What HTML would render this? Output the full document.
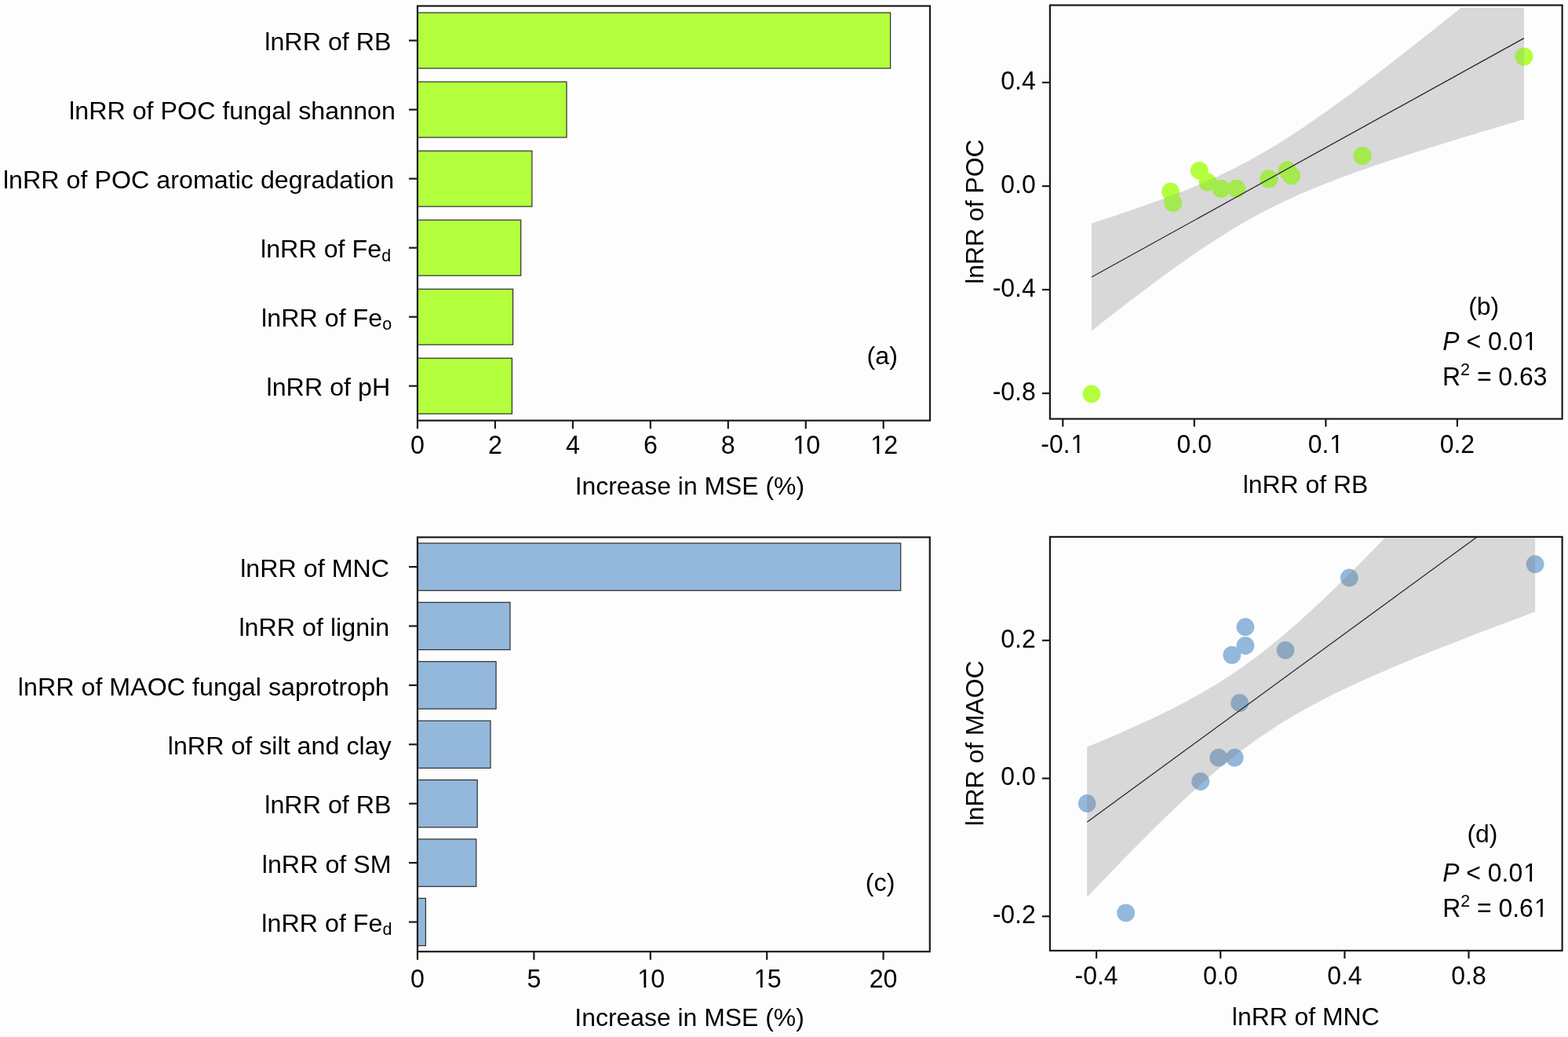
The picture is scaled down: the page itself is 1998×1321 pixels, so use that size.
<!DOCTYPE html>
<html><head><meta charset="utf-8"><title>Figure</title>
<style>html,body{margin:0;padding:0;background:#fdfdfd;}svg{display:block;}</style></head>
<body><svg width="1998" height="1321" viewBox="0 0 1998 1321" font-family="'Liberation Sans', Arial, Helvetica, sans-serif" font-size="32.25" fill="#000">
<rect width="1998" height="1321" fill="#fdfdfd"/>
<defs><clipPath id="c1_t6"><path clip-rule="evenodd" d="M-5000,-5000H9000V9000H-5000Z M1011.68,574.99h6.75v4.71h-6.75Z M1021.28,574.99h6.50v4.71h-6.50Z"/></clipPath><clipPath id="c1_t7"><path clip-rule="evenodd" d="M-5000,-5000H9000V9000H-5000Z M1110.63,574.99h6.75v4.71h-6.75Z M1120.23,574.99h6.50v4.71h-6.50Z"/></clipPath><clipPath id="c1_t10"><path clip-rule="evenodd" d="M-5000,-5000H9000V9000H-5000Z M813.73,1254.79h6.75v4.71h-6.75Z M823.33,1254.79h6.50v4.71h-6.50Z"/></clipPath><clipPath id="c1_t11"><path clip-rule="evenodd" d="M-5000,-5000H9000V9000H-5000Z M962.13,1254.79h6.75v4.71h-6.75Z M971.73,1254.79h6.50v4.71h-6.50Z"/></clipPath><clipPath id="c1_t17"><path clip-rule="evenodd" d="M-5000,-5000H9000V9000H-5000Z M1365.88,573.72h6.69v4.68h-6.69Z M1375.38,573.72h6.44v4.68h-6.44Z"/></clipPath><clipPath id="c1_t19"><path clip-rule="evenodd" d="M-5000,-5000H9000V9000H-5000Z M1695.67,573.72h6.69v4.68h-6.69Z M1705.17,573.72h6.44v4.68h-6.44Z"/></clipPath><clipPath id="c1_t47"><path clip-rule="evenodd" d="M-5000,-5000H9000V9000H-5000Z M1942.59,443.22h6.69v4.68h-6.69Z M1952.10,443.22h6.44v4.68h-6.44Z"/></clipPath><clipPath id="c1_t51"><path clip-rule="evenodd" d="M-5000,-5000H9000V9000H-5000Z M1942.49,1119.82h6.69v4.68h-6.69Z M1952.00,1119.82h6.44v4.68h-6.44Z"/></clipPath><clipPath id="c1_t52"><path clip-rule="evenodd" d="M-5000,-5000H9000V9000H-5000Z M1956.22,1164.82h6.69v4.68h-6.69Z M1965.72,1164.82h6.44v4.68h-6.44Z"/></clipPath></defs>
<rect x="532.00" y="16.18" width="602.60" height="70.85" fill="#b3ff3d" stroke="#262626" stroke-width="1.15"/>
<rect x="532.00" y="104.20" width="190.00" height="70.85" fill="#b3ff3d" stroke="#262626" stroke-width="1.15"/>
<rect x="532.00" y="192.21" width="145.90" height="70.85" fill="#b3ff3d" stroke="#262626" stroke-width="1.15"/>
<rect x="532.00" y="280.23" width="131.70" height="70.85" fill="#b3ff3d" stroke="#262626" stroke-width="1.15"/>
<rect x="532.00" y="368.25" width="121.60" height="70.85" fill="#b3ff3d" stroke="#262626" stroke-width="1.15"/>
<rect x="532.00" y="456.26" width="120.40" height="70.85" fill="#b3ff3d" stroke="#262626" stroke-width="1.15"/>
<rect x="532.0" y="7.6" width="653.0" height="528.1" fill="none" stroke="#1a1a1a" stroke-width="2.2"/>
<line x1="521.00" y1="51.61" x2="532.00" y2="51.61" stroke="#1a1a1a" stroke-width="2.2"/>
<line x1="521.00" y1="139.62" x2="532.00" y2="139.62" stroke="#1a1a1a" stroke-width="2.2"/>
<line x1="521.00" y1="227.64" x2="532.00" y2="227.64" stroke="#1a1a1a" stroke-width="2.2"/>
<line x1="521.00" y1="315.66" x2="532.00" y2="315.66" stroke="#1a1a1a" stroke-width="2.2"/>
<line x1="521.00" y1="403.68" x2="532.00" y2="403.68" stroke="#1a1a1a" stroke-width="2.2"/>
<line x1="521.00" y1="491.69" x2="532.00" y2="491.69" stroke="#1a1a1a" stroke-width="2.2"/>
<line x1="532.00" y1="535.70" x2="532.00" y2="546.20" stroke="#1a1a1a" stroke-width="2.2"/>
<text x="532.00" y="578.20" text-anchor="middle" transform="matrix(1 0 0 1.04 0 -23.128)">0</text>
<line x1="630.95" y1="535.70" x2="630.95" y2="546.20" stroke="#1a1a1a" stroke-width="2.2"/>
<text x="630.95" y="578.20" text-anchor="middle" transform="matrix(1 0 0 1.04 0 -23.128)">2</text>
<line x1="729.90" y1="535.70" x2="729.90" y2="546.20" stroke="#1a1a1a" stroke-width="2.2"/>
<text x="729.90" y="578.20" text-anchor="middle" transform="matrix(1 0 0 1.04 0 -23.128)">4</text>
<line x1="828.85" y1="535.70" x2="828.85" y2="546.20" stroke="#1a1a1a" stroke-width="2.2"/>
<text x="828.85" y="578.20" text-anchor="middle" transform="matrix(1 0 0 1.04 0 -23.128)">6</text>
<line x1="927.80" y1="535.70" x2="927.80" y2="546.20" stroke="#1a1a1a" stroke-width="2.2"/>
<text x="927.80" y="578.20" text-anchor="middle" transform="matrix(1 0 0 1.04 0 -23.128)">8</text>
<line x1="1026.75" y1="535.70" x2="1026.75" y2="546.20" stroke="#1a1a1a" stroke-width="2.2"/>
<text id="t6" clip-path="url(#c1_t6)" x="1026.75" y="578.20" text-anchor="middle" transform="matrix(1 0 0 1.04 0 -23.128)"><tspan dx="1.0">1</tspan><tspan dx="-1.0">0</tspan></text>
<line x1="1125.70" y1="535.70" x2="1125.70" y2="546.20" stroke="#1a1a1a" stroke-width="2.2"/>
<text id="t7" clip-path="url(#c1_t7)" x="1125.70" y="578.20" text-anchor="middle" transform="matrix(1 0 0 1.04 0 -23.128)"><tspan dx="1.0">1</tspan><tspan dx="-1.0">2</tspan></text>
<rect x="532.00" y="691.94" width="615.70" height="60.32" fill="#93b8db" stroke="#262626" stroke-width="1.15"/>
<rect x="532.00" y="767.34" width="118.00" height="60.32" fill="#93b8db" stroke="#262626" stroke-width="1.15"/>
<rect x="532.00" y="842.74" width="100.10" height="60.32" fill="#93b8db" stroke="#262626" stroke-width="1.15"/>
<rect x="532.00" y="918.14" width="93.00" height="60.32" fill="#93b8db" stroke="#262626" stroke-width="1.15"/>
<rect x="532.00" y="993.54" width="76.20" height="60.32" fill="#93b8db" stroke="#262626" stroke-width="1.15"/>
<rect x="532.00" y="1068.94" width="74.80" height="60.32" fill="#93b8db" stroke="#262626" stroke-width="1.15"/>
<rect x="532.00" y="1144.34" width="10.40" height="60.32" fill="#93b8db" stroke="#262626" stroke-width="1.15"/>
<rect x="532.0" y="684.4" width="652.8" height="527.8000000000001" fill="none" stroke="#1a1a1a" stroke-width="2.2"/>
<line x1="521.00" y1="722.10" x2="532.00" y2="722.10" stroke="#1a1a1a" stroke-width="2.2"/>
<line x1="521.00" y1="797.50" x2="532.00" y2="797.50" stroke="#1a1a1a" stroke-width="2.2"/>
<line x1="521.00" y1="872.90" x2="532.00" y2="872.90" stroke="#1a1a1a" stroke-width="2.2"/>
<line x1="521.00" y1="948.30" x2="532.00" y2="948.30" stroke="#1a1a1a" stroke-width="2.2"/>
<line x1="521.00" y1="1023.70" x2="532.00" y2="1023.70" stroke="#1a1a1a" stroke-width="2.2"/>
<line x1="521.00" y1="1099.10" x2="532.00" y2="1099.10" stroke="#1a1a1a" stroke-width="2.2"/>
<line x1="521.00" y1="1174.50" x2="532.00" y2="1174.50" stroke="#1a1a1a" stroke-width="2.2"/>
<line x1="532.00" y1="1212.20" x2="532.00" y2="1222.70" stroke="#1a1a1a" stroke-width="2.2"/>
<text x="532.00" y="1258.00" text-anchor="middle" transform="matrix(1 0 0 1.04 0 -50.320)">0</text>
<line x1="680.40" y1="1212.20" x2="680.40" y2="1222.70" stroke="#1a1a1a" stroke-width="2.2"/>
<text x="680.40" y="1258.00" text-anchor="middle" transform="matrix(1 0 0 1.04 0 -50.320)">5</text>
<line x1="828.80" y1="1212.20" x2="828.80" y2="1222.70" stroke="#1a1a1a" stroke-width="2.2"/>
<text id="t10" clip-path="url(#c1_t10)" x="828.80" y="1258.00" text-anchor="middle" transform="matrix(1 0 0 1.04 0 -50.320)"><tspan dx="1.0">1</tspan><tspan dx="-1.0">0</tspan></text>
<line x1="977.20" y1="1212.20" x2="977.20" y2="1222.70" stroke="#1a1a1a" stroke-width="2.2"/>
<text id="t11" clip-path="url(#c1_t11)" x="977.20" y="1258.00" text-anchor="middle" transform="matrix(1 0 0 1.04 0 -50.320)"><tspan dx="1.0">1</tspan><tspan dx="-1.0">5</tspan></text>
<line x1="1125.60" y1="1212.20" x2="1125.60" y2="1222.70" stroke="#1a1a1a" stroke-width="2.2"/>
<text x="1125.60" y="1258.00" text-anchor="middle" transform="matrix(1 0 0 1.04 0 -50.320)">20</text>
<g fill="#b3ff3d"><circle cx="1390.90" cy="501.80" r="11.4"/><circle cx="1491.50" cy="244.00" r="11.4"/><circle cx="1494.70" cy="258.30" r="11.4"/><circle cx="1528.30" cy="217.30" r="11.4"/><circle cx="1539.00" cy="232.00" r="11.4"/><circle cx="1556.00" cy="240.50" r="11.4"/><circle cx="1575.60" cy="240.50" r="11.4"/><circle cx="1616.80" cy="227.90" r="11.4"/><circle cx="1640.20" cy="217.00" r="11.4"/><circle cx="1645.50" cy="223.80" r="11.4"/><circle cx="1736.00" cy="198.50" r="11.4"/><circle cx="1942.00" cy="72.10" r="11.4"/></g>
<clipPath id="cb"><rect x="1337.9" y="9.8" width="652.6999999999998" height="523.8000000000001"/></clipPath>
<clipPath id="cbb"><polygon points="1390.90,284.43 1397.88,282.19 1404.85,279.94 1411.83,277.67 1418.80,275.38 1425.78,273.07 1432.76,270.73 1439.73,268.37 1446.71,265.98 1453.68,263.56 1460.66,261.11 1467.64,258.62 1474.61,256.09 1481.59,253.52 1488.56,250.91 1495.54,248.25 1502.52,245.54 1509.49,242.77 1516.47,239.95 1523.44,237.05 1530.42,234.09 1537.39,231.06 1544.37,227.95 1551.35,224.76 1558.32,221.48 1565.30,218.11 1572.27,214.65 1579.25,211.09 1586.23,207.43 1593.20,203.68 1600.18,199.82 1607.15,195.86 1614.13,191.81 1621.11,187.65 1628.08,183.40 1635.06,179.05 1642.03,174.62 1649.01,170.10 1655.99,165.50 1662.96,160.82 1669.94,156.07 1676.91,151.25 1683.89,146.36 1690.87,141.42 1697.84,136.42 1704.82,131.37 1711.79,126.28 1718.77,121.14 1725.75,115.95 1732.72,110.73 1739.70,105.48 1746.67,100.19 1753.65,94.88 1760.63,89.53 1767.60,84.16 1774.58,78.77 1781.55,73.35 1788.53,67.91 1795.51,62.46 1802.48,56.98 1809.46,51.49 1816.43,45.99 1823.41,40.47 1830.38,34.93 1837.36,29.39 1844.34,23.83 1851.31,18.26 1858.29,12.68 1865.26,7.09 1872.24,1.50 1879.22,-4.11 1886.19,-9.72 1893.17,-15.34 1900.14,-20.97 1907.12,-26.61 1914.10,-32.25 1921.07,-37.90 1928.05,-43.55 1935.02,-49.21 1942.00,-54.87 1942.00,152.08 1935.02,154.12 1928.05,156.17 1921.07,158.22 1914.10,160.27 1907.12,162.34 1900.14,164.41 1893.17,166.48 1886.19,168.57 1879.22,170.66 1872.24,172.76 1865.26,174.87 1858.29,176.98 1851.31,179.11 1844.34,181.24 1837.36,183.39 1830.38,185.55 1823.41,187.72 1816.43,189.91 1809.46,192.11 1802.48,194.32 1795.51,196.55 1788.53,198.80 1781.55,201.07 1774.58,203.36 1767.60,205.67 1760.63,208.00 1753.65,210.36 1746.67,212.75 1739.70,215.17 1732.72,217.62 1725.75,220.10 1718.77,222.63 1711.79,225.19 1704.82,227.80 1697.84,230.46 1690.87,233.16 1683.89,235.92 1676.91,238.75 1669.94,241.63 1662.96,244.59 1655.99,247.61 1649.01,250.72 1642.03,253.90 1635.06,257.17 1628.08,260.53 1621.11,263.98 1614.13,267.53 1607.15,271.18 1600.18,274.93 1593.20,278.78 1586.23,282.72 1579.25,286.77 1572.27,290.92 1565.30,295.16 1558.32,299.50 1551.35,303.93 1544.37,308.44 1537.39,313.03 1530.42,317.71 1523.44,322.45 1516.47,327.26 1509.49,332.14 1502.52,337.08 1495.54,342.07 1488.56,347.12 1481.59,352.21 1474.61,357.35 1467.64,362.53 1460.66,367.74 1453.68,372.99 1446.71,378.28 1439.73,383.59 1432.76,388.93 1425.78,394.30 1418.80,399.70 1411.83,405.11 1404.85,410.55 1397.88,416.00 1390.90,421.47"/></clipPath>
<g clip-path="url(#cb)"><polygon points="1390.90,284.43 1397.88,282.19 1404.85,279.94 1411.83,277.67 1418.80,275.38 1425.78,273.07 1432.76,270.73 1439.73,268.37 1446.71,265.98 1453.68,263.56 1460.66,261.11 1467.64,258.62 1474.61,256.09 1481.59,253.52 1488.56,250.91 1495.54,248.25 1502.52,245.54 1509.49,242.77 1516.47,239.95 1523.44,237.05 1530.42,234.09 1537.39,231.06 1544.37,227.95 1551.35,224.76 1558.32,221.48 1565.30,218.11 1572.27,214.65 1579.25,211.09 1586.23,207.43 1593.20,203.68 1600.18,199.82 1607.15,195.86 1614.13,191.81 1621.11,187.65 1628.08,183.40 1635.06,179.05 1642.03,174.62 1649.01,170.10 1655.99,165.50 1662.96,160.82 1669.94,156.07 1676.91,151.25 1683.89,146.36 1690.87,141.42 1697.84,136.42 1704.82,131.37 1711.79,126.28 1718.77,121.14 1725.75,115.95 1732.72,110.73 1739.70,105.48 1746.67,100.19 1753.65,94.88 1760.63,89.53 1767.60,84.16 1774.58,78.77 1781.55,73.35 1788.53,67.91 1795.51,62.46 1802.48,56.98 1809.46,51.49 1816.43,45.99 1823.41,40.47 1830.38,34.93 1837.36,29.39 1844.34,23.83 1851.31,18.26 1858.29,12.68 1865.26,7.09 1872.24,1.50 1879.22,-4.11 1886.19,-9.72 1893.17,-15.34 1900.14,-20.97 1907.12,-26.61 1914.10,-32.25 1921.07,-37.90 1928.05,-43.55 1935.02,-49.21 1942.00,-54.87 1942.00,152.08 1935.02,154.12 1928.05,156.17 1921.07,158.22 1914.10,160.27 1907.12,162.34 1900.14,164.41 1893.17,166.48 1886.19,168.57 1879.22,170.66 1872.24,172.76 1865.26,174.87 1858.29,176.98 1851.31,179.11 1844.34,181.24 1837.36,183.39 1830.38,185.55 1823.41,187.72 1816.43,189.91 1809.46,192.11 1802.48,194.32 1795.51,196.55 1788.53,198.80 1781.55,201.07 1774.58,203.36 1767.60,205.67 1760.63,208.00 1753.65,210.36 1746.67,212.75 1739.70,215.17 1732.72,217.62 1725.75,220.10 1718.77,222.63 1711.79,225.19 1704.82,227.80 1697.84,230.46 1690.87,233.16 1683.89,235.92 1676.91,238.75 1669.94,241.63 1662.96,244.59 1655.99,247.61 1649.01,250.72 1642.03,253.90 1635.06,257.17 1628.08,260.53 1621.11,263.98 1614.13,267.53 1607.15,271.18 1600.18,274.93 1593.20,278.78 1586.23,282.72 1579.25,286.77 1572.27,290.92 1565.30,295.16 1558.32,299.50 1551.35,303.93 1544.37,308.44 1537.39,313.03 1530.42,317.71 1523.44,322.45 1516.47,327.26 1509.49,332.14 1502.52,337.08 1495.54,342.07 1488.56,347.12 1481.59,352.21 1474.61,357.35 1467.64,362.53 1460.66,367.74 1453.68,372.99 1446.71,378.28 1439.73,383.59 1432.76,388.93 1425.78,394.30 1418.80,399.70 1411.83,405.11 1404.85,410.55 1397.88,416.00 1390.90,421.47" fill="rgb(127,127,127)" fill-opacity="0.29"/>
<g clip-path="url(#cbb)" fill="#a4ea4e"><circle cx="1390.90" cy="501.80" r="11.4"/><circle cx="1491.50" cy="244.00" r="11.4"/><circle cx="1494.70" cy="258.30" r="11.4"/><circle cx="1528.30" cy="217.30" r="11.4"/><circle cx="1539.00" cy="232.00" r="11.4"/><circle cx="1556.00" cy="240.50" r="11.4"/><circle cx="1575.60" cy="240.50" r="11.4"/><circle cx="1616.80" cy="227.90" r="11.4"/><circle cx="1640.20" cy="217.00" r="11.4"/><circle cx="1645.50" cy="223.80" r="11.4"/><circle cx="1736.00" cy="198.50" r="11.4"/><circle cx="1942.00" cy="72.10" r="11.4"/></g>
<line x1="1390.90" y1="352.95" x2="1942.00" y2="48.60" stroke="#262626" stroke-width="1.25"/></g>
<rect x="1337.9" y="6.6" width="652.6999999999998" height="527.0" fill="none" stroke="#1a1a1a" stroke-width="2.2"/>
<line x1="1327.90" y1="105.10" x2="1337.90" y2="105.10" stroke="#1a1a1a" stroke-width="2.2"/>
<text x="1319.70" y="114.00" text-anchor="end" font-size="31.9" transform="matrix(1 0 0 1.04 0 -4.560)">0.4</text>
<line x1="1327.90" y1="237.10" x2="1337.90" y2="237.10" stroke="#1a1a1a" stroke-width="2.2"/>
<text x="1319.70" y="246.00" text-anchor="end" font-size="31.9" transform="matrix(1 0 0 1.04 0 -9.840)">0.0</text>
<line x1="1327.90" y1="369.00" x2="1337.90" y2="369.00" stroke="#1a1a1a" stroke-width="2.2"/>
<text x="1319.70" y="377.90" text-anchor="end" font-size="31.9" transform="matrix(1 0 0 1.04 0 -15.116)">-0.4</text>
<line x1="1327.90" y1="501.00" x2="1337.90" y2="501.00" stroke="#1a1a1a" stroke-width="2.2"/>
<text x="1319.70" y="509.90" text-anchor="end" font-size="31.9" transform="matrix(1 0 0 1.04 0 -20.396)">-0.8</text>
<line x1="1354.30" y1="533.60" x2="1354.30" y2="543.60" stroke="#1a1a1a" stroke-width="2.2"/>
<text id="t17" clip-path="url(#c1_t17)" x="1354.30" y="576.90" text-anchor="middle" font-size="31.9" transform="matrix(1 0 0 1.04 0 -23.076)">-0.<tspan dx="1.0">1</tspan></text>
<line x1="1521.80" y1="533.60" x2="1521.80" y2="543.60" stroke="#1a1a1a" stroke-width="2.2"/>
<text x="1521.80" y="576.90" text-anchor="middle" font-size="31.9" transform="matrix(1 0 0 1.04 0 -23.076)">0.0</text>
<line x1="1689.40" y1="533.60" x2="1689.40" y2="543.60" stroke="#1a1a1a" stroke-width="2.2"/>
<text id="t19" clip-path="url(#c1_t19)" x="1689.40" y="576.90" text-anchor="middle" font-size="31.9" transform="matrix(1 0 0 1.04 0 -23.076)">0.<tspan dx="1.0">1</tspan></text>
<line x1="1856.90" y1="533.60" x2="1856.90" y2="543.60" stroke="#1a1a1a" stroke-width="2.2"/>
<text x="1856.90" y="576.90" text-anchor="middle" font-size="31.9" transform="matrix(1 0 0 1.04 0 -23.076)">0.2</text>
<g fill="#93b8db"><circle cx="1385.20" cy="1023.50" r="11.4"/><circle cx="1434.60" cy="1162.90" r="11.4"/><circle cx="1529.70" cy="995.50" r="11.4"/><circle cx="1552.80" cy="965.20" r="11.4"/><circle cx="1573.20" cy="965.20" r="11.4"/><circle cx="1579.60" cy="895.50" r="11.4"/><circle cx="1569.80" cy="834.40" r="11.4"/><circle cx="1586.90" cy="822.50" r="11.4"/><circle cx="1586.90" cy="798.70" r="11.4"/><circle cx="1638.00" cy="828.30" r="11.4"/><circle cx="1719.30" cy="736.00" r="11.4"/><circle cx="1956.10" cy="718.70" r="11.4"/></g>
<clipPath id="cd"><rect x="1337.9" y="684.9" width="652.6999999999998" height="526.1"/></clipPath>
<clipPath id="cdb"><polygon points="1385.20,951.51 1392.43,948.54 1399.65,945.54 1406.88,942.51 1414.11,939.45 1421.33,936.36 1428.56,933.23 1435.79,930.06 1443.01,926.86 1450.24,923.60 1457.47,920.30 1464.69,916.95 1471.92,913.54 1479.15,910.06 1486.37,906.52 1493.60,902.91 1500.83,899.22 1508.05,895.44 1515.28,891.58 1522.51,887.61 1529.73,883.55 1536.96,879.37 1544.18,875.08 1551.41,870.66 1558.64,866.12 1565.86,861.44 1573.09,856.62 1580.32,851.66 1587.54,846.56 1594.77,841.31 1602.00,835.91 1609.22,830.36 1616.45,824.68 1623.68,818.85 1630.90,812.89 1638.13,806.79 1645.36,800.57 1652.58,794.23 1659.81,787.78 1667.04,781.22 1674.26,774.56 1681.49,767.81 1688.72,760.97 1695.94,754.05 1703.17,747.06 1710.40,740.00 1717.62,732.87 1724.85,725.69 1732.08,718.45 1739.30,711.15 1746.53,703.82 1753.76,696.44 1760.98,689.01 1768.21,681.56 1775.44,674.07 1782.66,666.54 1789.89,658.99 1797.12,651.41 1804.34,643.80 1811.57,636.17 1818.79,628.52 1826.02,620.85 1833.25,613.16 1840.47,605.45 1847.70,597.73 1854.93,589.99 1862.15,582.23 1869.38,574.47 1876.61,566.69 1883.83,558.89 1891.06,551.09 1898.29,543.27 1905.51,535.45 1912.74,527.61 1919.97,519.77 1927.19,511.92 1934.42,504.06 1941.65,496.19 1948.87,488.31 1956.10,480.43 1956.10,779.37 1948.87,782.06 1941.65,784.75 1934.42,787.44 1927.19,790.15 1919.97,792.86 1912.74,795.58 1905.51,798.31 1898.29,801.05 1891.06,803.79 1883.83,806.55 1876.61,809.32 1869.38,812.11 1862.15,814.90 1854.93,817.71 1847.70,820.54 1840.47,823.37 1833.25,826.23 1826.02,829.10 1818.79,832.00 1811.57,834.91 1804.34,837.85 1797.12,840.80 1789.89,843.79 1782.66,846.80 1775.44,849.84 1768.21,852.91 1760.98,856.02 1753.76,859.16 1746.53,862.34 1739.30,865.57 1732.08,868.84 1724.85,872.17 1717.62,875.54 1710.40,878.98 1703.17,882.48 1695.94,886.05 1688.72,889.70 1681.49,893.42 1674.26,897.24 1667.04,901.14 1659.81,905.15 1652.58,909.26 1645.36,913.48 1638.13,917.83 1630.90,922.30 1623.68,926.90 1616.45,931.63 1609.22,936.51 1602.00,941.53 1594.77,946.70 1587.54,952.01 1580.32,957.47 1573.09,963.07 1565.86,968.82 1558.64,974.71 1551.41,980.72 1544.18,986.87 1536.96,993.14 1529.73,999.53 1522.51,1006.03 1515.28,1012.63 1508.05,1019.33 1500.83,1026.12 1493.60,1032.99 1486.37,1039.94 1479.15,1046.96 1471.92,1054.05 1464.69,1061.21 1457.47,1068.42 1450.24,1075.68 1443.01,1082.99 1435.79,1090.34 1428.56,1097.74 1421.33,1105.18 1414.11,1112.65 1406.88,1120.16 1399.65,1127.69 1392.43,1135.26 1385.20,1142.85"/></clipPath>
<g clip-path="url(#cd)"><polygon points="1385.20,951.51 1392.43,948.54 1399.65,945.54 1406.88,942.51 1414.11,939.45 1421.33,936.36 1428.56,933.23 1435.79,930.06 1443.01,926.86 1450.24,923.60 1457.47,920.30 1464.69,916.95 1471.92,913.54 1479.15,910.06 1486.37,906.52 1493.60,902.91 1500.83,899.22 1508.05,895.44 1515.28,891.58 1522.51,887.61 1529.73,883.55 1536.96,879.37 1544.18,875.08 1551.41,870.66 1558.64,866.12 1565.86,861.44 1573.09,856.62 1580.32,851.66 1587.54,846.56 1594.77,841.31 1602.00,835.91 1609.22,830.36 1616.45,824.68 1623.68,818.85 1630.90,812.89 1638.13,806.79 1645.36,800.57 1652.58,794.23 1659.81,787.78 1667.04,781.22 1674.26,774.56 1681.49,767.81 1688.72,760.97 1695.94,754.05 1703.17,747.06 1710.40,740.00 1717.62,732.87 1724.85,725.69 1732.08,718.45 1739.30,711.15 1746.53,703.82 1753.76,696.44 1760.98,689.01 1768.21,681.56 1775.44,674.07 1782.66,666.54 1789.89,658.99 1797.12,651.41 1804.34,643.80 1811.57,636.17 1818.79,628.52 1826.02,620.85 1833.25,613.16 1840.47,605.45 1847.70,597.73 1854.93,589.99 1862.15,582.23 1869.38,574.47 1876.61,566.69 1883.83,558.89 1891.06,551.09 1898.29,543.27 1905.51,535.45 1912.74,527.61 1919.97,519.77 1927.19,511.92 1934.42,504.06 1941.65,496.19 1948.87,488.31 1956.10,480.43 1956.10,779.37 1948.87,782.06 1941.65,784.75 1934.42,787.44 1927.19,790.15 1919.97,792.86 1912.74,795.58 1905.51,798.31 1898.29,801.05 1891.06,803.79 1883.83,806.55 1876.61,809.32 1869.38,812.11 1862.15,814.90 1854.93,817.71 1847.70,820.54 1840.47,823.37 1833.25,826.23 1826.02,829.10 1818.79,832.00 1811.57,834.91 1804.34,837.85 1797.12,840.80 1789.89,843.79 1782.66,846.80 1775.44,849.84 1768.21,852.91 1760.98,856.02 1753.76,859.16 1746.53,862.34 1739.30,865.57 1732.08,868.84 1724.85,872.17 1717.62,875.54 1710.40,878.98 1703.17,882.48 1695.94,886.05 1688.72,889.70 1681.49,893.42 1674.26,897.24 1667.04,901.14 1659.81,905.15 1652.58,909.26 1645.36,913.48 1638.13,917.83 1630.90,922.30 1623.68,926.90 1616.45,931.63 1609.22,936.51 1602.00,941.53 1594.77,946.70 1587.54,952.01 1580.32,957.47 1573.09,963.07 1565.86,968.82 1558.64,974.71 1551.41,980.72 1544.18,986.87 1536.96,993.14 1529.73,999.53 1522.51,1006.03 1515.28,1012.63 1508.05,1019.33 1500.83,1026.12 1493.60,1032.99 1486.37,1039.94 1479.15,1046.96 1471.92,1054.05 1464.69,1061.21 1457.47,1068.42 1450.24,1075.68 1443.01,1082.99 1435.79,1090.34 1428.56,1097.74 1421.33,1105.18 1414.11,1112.65 1406.88,1120.16 1399.65,1127.69 1392.43,1135.26 1385.20,1142.85" fill="rgb(127,127,127)" fill-opacity="0.29"/>
<line x1="1385.20" y1="1047.18" x2="1956.10" y2="629.90" stroke="#262626" stroke-width="1.25"/></g>
<rect x="1337.9" y="683.9" width="652.6999999999998" height="527.1" fill="none" stroke="#1a1a1a" stroke-width="2.2"/>
<line x1="1327.90" y1="815.80" x2="1337.90" y2="815.80" stroke="#1a1a1a" stroke-width="2.2"/>
<text x="1319.70" y="824.70" text-anchor="end" font-size="31.9" transform="matrix(1 0 0 1.04 0 -32.988)">0.2</text>
<line x1="1327.90" y1="991.55" x2="1337.90" y2="991.55" stroke="#1a1a1a" stroke-width="2.2"/>
<text x="1319.70" y="1000.45" text-anchor="end" font-size="31.9" transform="matrix(1 0 0 1.04 0 -40.018)">0.0</text>
<line x1="1327.90" y1="1167.30" x2="1337.90" y2="1167.30" stroke="#1a1a1a" stroke-width="2.2"/>
<text x="1319.70" y="1176.20" text-anchor="end" font-size="31.9" transform="matrix(1 0 0 1.04 0 -47.048)">-0.2</text>
<line x1="1397.10" y1="1211.00" x2="1397.10" y2="1221.00" stroke="#1a1a1a" stroke-width="2.2"/>
<text x="1397.10" y="1254.30" text-anchor="middle" font-size="31.9" transform="matrix(1 0 0 1.04 0 -50.172)">-0.4</text>
<line x1="1555.20" y1="1211.00" x2="1555.20" y2="1221.00" stroke="#1a1a1a" stroke-width="2.2"/>
<text x="1555.20" y="1254.30" text-anchor="middle" font-size="31.9" transform="matrix(1 0 0 1.04 0 -50.172)">0.0</text>
<line x1="1713.40" y1="1211.00" x2="1713.40" y2="1221.00" stroke="#1a1a1a" stroke-width="2.2"/>
<text x="1713.40" y="1254.30" text-anchor="middle" font-size="31.9" transform="matrix(1 0 0 1.04 0 -50.172)">0.4</text>
<line x1="1871.50" y1="1211.00" x2="1871.50" y2="1221.00" stroke="#1a1a1a" stroke-width="2.2"/>
<text x="1871.50" y="1254.30" text-anchor="middle" font-size="31.9" transform="matrix(1 0 0 1.04 0 -50.172)">0.8</text>
<text transform="translate(1252.6,269.6) rotate(-90)" text-anchor="middle" font-size="31.9">lnRR of POC</text>
<text transform="translate(1252.8,946.8) rotate(-90)" text-anchor="middle" font-size="31.9">lnRR of MAOC</text>
<text x="337.25" y="64.00">lnRR of RB</text>
<text x="88.05" y="152.20">lnRR of POC fungal shannon</text>
<text x="3.95" y="240.00">lnRR of POC aromatic degradation</text>
<text x="332.00" y="328.30">lnRR of Fe<tspan font-size="21.5" dy="4.3">d</tspan></text>
<text x="333.10" y="416.00">lnRR of Fe<tspan font-size="21.5" dy="4.3">o</tspan></text>
<text x="339.50" y="503.80">lnRR of pH</text>
<text x="732.65" y="630.00" font-size="31.9">Increase in MSE (%)</text>
<text x="1104.50" y="463.50">(a)</text>
<text x="306.15" y="734.60">lnRR of MNC</text>
<text x="304.40" y="809.90">lnRR of lignin</text>
<text x="22.85" y="885.50">lnRR of MAOC fungal saprotroph</text>
<text x="213.75" y="961.10">lnRR of silt and clay</text>
<text x="337.25" y="1036.00">lnRR of RB</text>
<text x="333.75" y="1111.50">lnRR of SM</text>
<text x="333.35" y="1186.80">lnRR of Fe<tspan font-size="21.5" dy="4.3">d</tspan></text>
<text x="732.35" y="1307.40" font-size="31.9">Increase in MSE (%)</text>
<text x="1102.85" y="1134.50">(c)</text>
<text x="1583.75" y="627.80" font-size="31.9">lnRR of RB</text>
<text x="1871.25" y="400.80" font-size="31.9">(b)</text>
<text id="t47" clip-path="url(#c1_t47)" x="1838.30" y="446.40" font-size="31.9" transform="matrix(1 0 0 1.04 0 -17.856)"><tspan font-style="italic">P</tspan> &lt; 0.0<tspan dx="1.0">1</tspan></text>
<text x="1838.05" y="490.90" font-size="31.9" transform="matrix(1 0 0 1.04 0 -19.636)">R<tspan font-size="21.5" dy="-12.4">2</tspan><tspan dy="12.4"> = 0.63</tspan></text>
<text x="1569.85" y="1305.60" font-size="31.9">lnRR of MNC</text>
<text x="1869.40" y="1072.50" font-size="31.9">(d)</text>
<text id="t51" clip-path="url(#c1_t51)" x="1838.20" y="1123.00" font-size="31.9" transform="matrix(1 0 0 1.04 0 -44.920)"><tspan font-style="italic">P</tspan> &lt; 0.0<tspan dx="1.0">1</tspan></text>
<text id="t52" clip-path="url(#c1_t52)" x="1838.20" y="1168.00" font-size="31.9" transform="matrix(1 0 0 1.04 0 -46.720)">R<tspan font-size="21.5" dy="-12.4">2</tspan><tspan dy="12.4"> = 0.6<tspan dx="1.0">1</tspan></tspan></text>
</svg></body></html>
